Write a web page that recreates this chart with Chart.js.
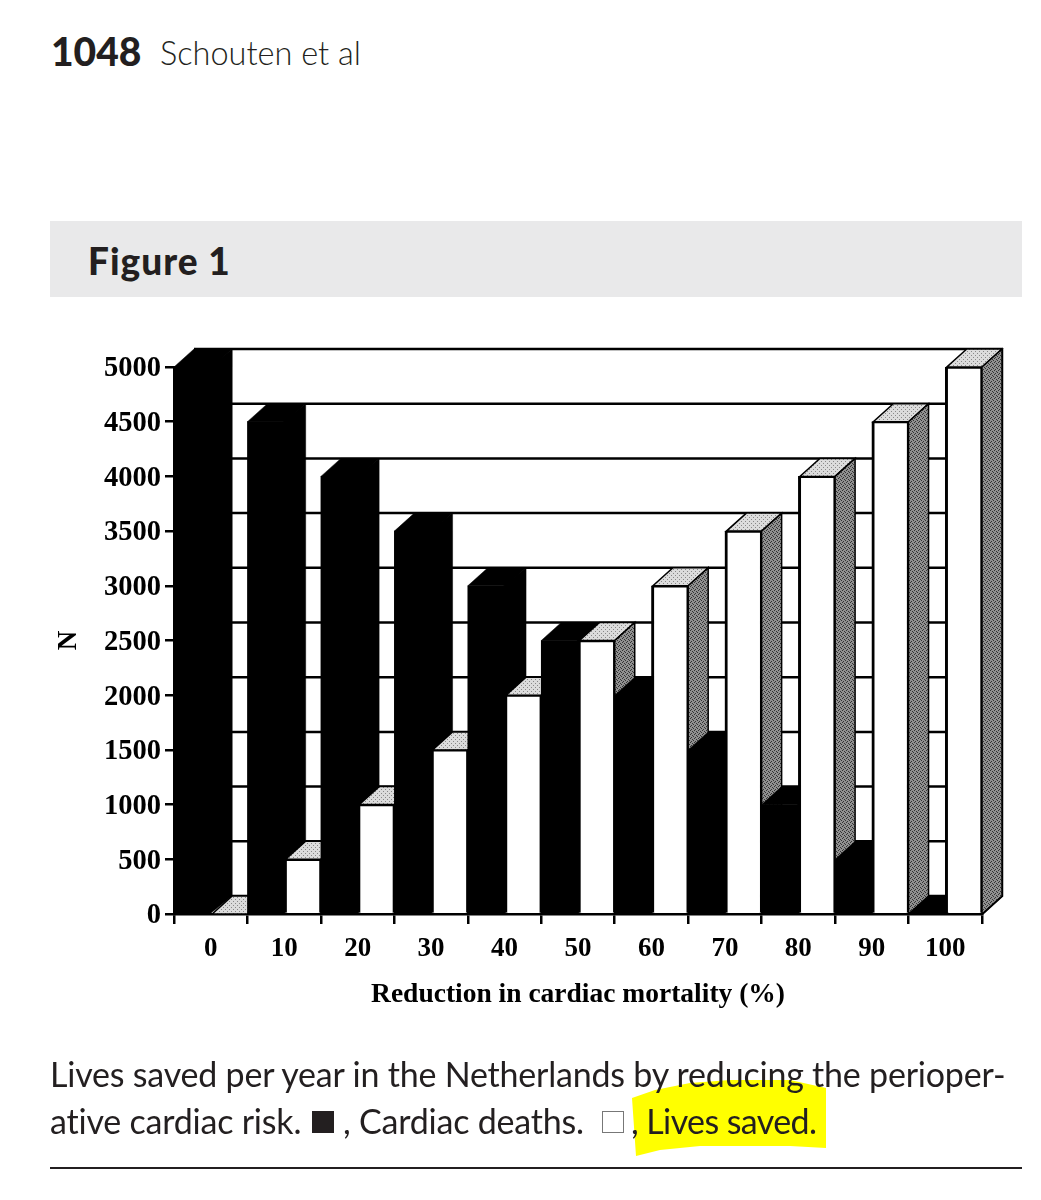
<!DOCTYPE html>
<html>
<head>
<meta charset="utf-8">
<title>Figure 1</title>
<script src="https://cdn.jsdelivr.net/npm/chart.js@4"></script>
<style>
  html, body { margin: 0; padding: 0; background: #fff; }
  body { position: relative; width: 1041px; height: 1200px; overflow: hidden; font-family: Lato, sans-serif; color: #231f20; }
  .txt { position: absolute; white-space: nowrap; }
  #band { position: absolute; left: 50px; top: 221px; width: 972px; height: 76px; background: #e9e9ea; }
  #rule { position: absolute; left: 50px; top: 1167px; width: 972px; height: 2px; background: #231f20; }
  #chartBox { position: absolute; left: 50px; top: 330px; width: 970px; height: 690px; }
  #myChart { display: block; }
  #marker { position: absolute; left: 0; top: 0; }
  .line { font-size: 34px; font-weight: 400; letter-spacing: -0.21px; }
</style>
</head>
<body>
<div class="txt" style="left:51px;top:28px;font-size:39px;font-weight:900;">1048</div>
<div class="txt" style="left:160px;top:33px;font-size:32.5px;font-weight:300;">Schouten et al</div>
<div id="band"></div>
<div class="txt" style="left:88px;top:238px;font-size:37px;font-weight:900;letter-spacing:1px;">Figure 1</div>
<div id="chartBox"><canvas id="myChart" width="970" height="690"></canvas></div>
<svg id="marker" width="1041" height="1200"><polygon fill="#ffff00" points="632,1098 655,1090 690,1083 730,1080 790,1080 826,1088 826,1148 790,1146 700,1146 660,1150 636,1156"/></svg>
<div class="txt line" style="left:50px;top:1053px;">Lives saved per year in the Netherlands by reducing the perioper-</div>
<div class="txt line" style="left:50px;top:1100px;">ative cardiac risk.</div>
<div style="position:absolute;left:312px;top:1111px;width:22px;height:22px;background:#231f20;"></div>
<div class="txt line" style="left:343px;top:1100px;">, Cardiac deaths.</div>
<div style="position:absolute;left:602px;top:1111px;width:20px;height:20px;border:1px solid #777;"></div>
<div class="txt line" style="left:631px;top:1100px;letter-spacing:-0.6px;">, Lives saved.</div>
<div id="rule"></div>
<script>
var categories = ["0", "10", "20", "30", "40", "50", "60", "70", "80", "90", "100"];
var cardiacDeaths = [5000, 4500, 4000, 3500, 3000, 2500, 2000, 1500, 1000, 500, 0];
var livesSaved = [0, 500, 1000, 1500, 2000, 2500, 3000, 3500, 4000, 4500, 5000];
var yTicks = [0, 500, 1000, 1500, 2000, 2500, 3000, 3500, 4000, 4500, 5000];

var depthX = 20, depthY = 18;
// the black bars sit slightly wider than the white ones in the original
var blackExtra = 1.5;

function stipple(base, dots, dotColor) {
  // small tile so the grey faces look like the printed screen
  var c = document.createElement("canvas");
  c.width = 4; c.height = 4;
  var g = c.getContext("2d");
  g.fillStyle = base;
  g.fillRect(0, 0, 4, 4);
  g.fillStyle = dotColor;
  dots.forEach(function (d) { g.fillRect(d[0], d[1], 1, 1); });
  return c;
}

function face(ctx, pts, fill, stroke, width) {
  ctx.beginPath();
  ctx.moveTo(pts[0][0], pts[0][1]);
  for (var i = 1; i < pts.length; i++) ctx.lineTo(pts[i][0], pts[i][1]);
  ctx.closePath();
  ctx.fillStyle = fill;
  ctx.fill();
  ctx.strokeStyle = stroke;
  ctx.lineWidth = width;
  ctx.stroke();
}

var depthPlugin = {
  id: "depth",
  beforeDatasetsDraw: function (chart) {
    var ctx = chart.ctx, area = chart.chartArea, y = chart.scales.y;
    var sideFill = ctx.createPattern(stipple("#909090", [[0, 0], [2, 1], [1, 3], [3, 2]], "#333"), "repeat");
    var topFill = ctx.createPattern(stipple("#dcdcdc", [[1, 1], [3, 3]], "#888"), "repeat");

    // back wall
    ctx.save();
    ctx.strokeStyle = "#000";
    ctx.lineWidth = 2.5;
    yTicks.forEach(function (t) {
      var py = y.getPixelForValue(t) - depthY;
      ctx.beginPath();
      ctx.moveTo(area.left + depthX, py);
      ctx.lineTo(area.right + depthX, py);
      ctx.stroke();
    });
    ctx.beginPath();
    ctx.moveTo(area.right + depthX, area.top - depthY);
    ctx.lineTo(area.right + depthX, area.bottom - depthY);
    ctx.lineTo(area.right, area.bottom);
    ctx.stroke();

    // sides and tops, left to right, so later bars cover earlier ones
    var black = chart.getDatasetMeta(0).data, white = chart.getDatasetMeta(1).data;
    categories.forEach(function (c, i) {
      var b = black[i], w = white[i];
      var bl = b.x - b.width / 2, bf = b.x + b.width / 2, br = bf + blackExtra;
      face(ctx, [[bl, b.y], [br, b.y], [br + depthX, b.y - depthY], [bl + depthX, b.y - depthY]], "#000", "#000", 0.5);
      face(ctx, [[bf - 1, b.y], [br + depthX, b.y - depthY], [br + depthX, area.bottom - depthY], [bf - 1, area.bottom]], "#000", "#000", 0.5);
      var wl = w.x - w.width / 2 + blackExtra, wr = w.x + w.width / 2;
      face(ctx, [[wl, w.y], [wr, w.y], [wr + depthX, w.y - depthY], [wl + depthX, w.y - depthY]], topFill, "#000", 1.5);
      face(ctx, [[wr, w.y], [wr + depthX, w.y - depthY], [wr + depthX, area.bottom - depthY], [wr, area.bottom]], sideFill, "#000", 1.5);
    });
    ctx.restore();
  }
};

var serif = "'Liberation Serif', serif";

new Chart(document.getElementById("myChart").getContext("2d"), {
  type: "bar",
  data: {
    labels: categories,
    datasets: [
      { label: "Cardiac deaths", data: cardiacDeaths, backgroundColor: "#000", borderColor: "#000", borderWidth: 0 },
      { label: "Lives saved", data: livesSaved, backgroundColor: "#fff", borderColor: "#000", borderWidth: { top: 2, left: 3, right: 2, bottom: 0 } }
    ]
  },
  plugins: [depthPlugin],
  options: {
    responsive: false,
    animation: false,
    layout: { padding: { left: 0, right: 38, top: 37, bottom: 0 } },
    datasets: { bar: { barPercentage: 1, categoryPercentage: 1 } },
    plugins: { legend: { display: false }, tooltip: { enabled: false } },
    scales: {
      x: {
        afterFit: function (s) { s.height = 106; },
        grid: { offset: true, drawOnChartArea: false, drawTicks: true, tickLength: 10, color: "#000", lineWidth: 2.5 },
        border: { display: true, color: "#000", width: 2.5 },
        ticks: { color: "#000", padding: 9, maxRotation: 0, autoSkip: false, font: { family: serif, size: 27, weight: "bold" } },
        title: { display: true, text: "Reduction in cardiac mortality (%)", color: "#000", padding: { top: 4, bottom: 9 }, font: { family: serif, size: 27.5, weight: "bold" } }
      },
      y: {
        min: 0,
        max: 5000,
        afterFit: function (s) { s.width = 124; },
        afterBuildTicks: function (s) { s.ticks = yTicks.map(function (v) { return { value: v }; }); },
        grid: { drawOnChartArea: false, drawTicks: true, tickLength: 9, color: "#000", lineWidth: 2.5 },
        border: { display: true, color: "#000", width: 2.5 },
        ticks: { color: "#000", padding: 4, labelOffset: 2, callback: function (v) { return String(v); }, font: { family: serif, size: 28.5, weight: "bold" } },
        title: { display: true, text: "N", color: "#000", padding: { top: 3, bottom: 0 }, font: { family: serif, size: 27, weight: "bold" } }
      }
    }
  }
});
</script>
</body>
</html>
